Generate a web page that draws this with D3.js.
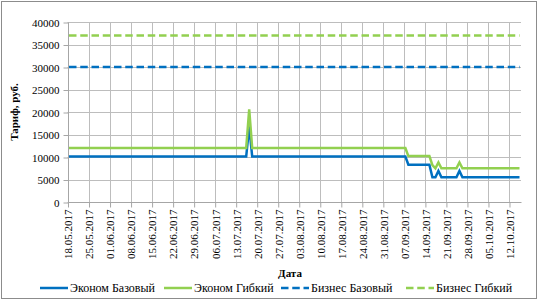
<!DOCTYPE html>
<html><head><meta charset="utf-8">
<script src="https://cdn.jsdelivr.net/npm/d3@7"></script>
</head><body style="margin:0;background:#fff">
<svg id="chart" width="540" height="304" style="display:block"></svg>
<script>
// ---- data ----
const dates = ["18.05.2017","16.07.2017","17.07.2017","18.07.2017","07.09.2017","08.09.2017","15.09.2017","16.09.2017","17.09.2017","18.09.2017","19.09.2017","24.09.2017","25.09.2017","26.09.2017","15.10.2017"];
const economyBase  = [10100,10100,16800,10100,10100,8300,8300,5500,5500,6900,5500,5500,6900,5500,5500];
const economyFlex  = [12000,12000,20600,12000,12000,10200,10200,8200,7500,8800,7500,7500,8800,7500,7500];
const businessBase = [30000,30000,30000,30000,30000,30000,30000,30000,30000,30000,30000,30000,30000,30000,30000];
const businessFlex = [37000,37000,37000,37000,37000,37000,37000,37000,37000,37000,37000,37000,37000,37000,37000];
const seriesNames  = ["Эконом Базовый","Эконом Гибкий","Бизнес Базовый","Бизнес Гибкий"];
const xTickLabels  = ["18.05.2017","25.05.2017","01.06.2017","08.06.2017","15.06.2017","22.06.2017","29.06.2017","06.07.2017","13.07.2017","20.07.2017","27.07.2017","03.08.2017","10.08.2017","17.08.2017","24.08.2017","31.08.2017","07.09.2017","14.09.2017","21.09.2017","28.09.2017","05.10.2017","12.10.2017"];
const yTicks = [0,5000,10000,15000,20000,25000,30000,35000,40000];
const axisStart = "18.05.2017", axisEnd = "16.10.2017";
const yLabel = "Тариф, руб.", xLabel = "Дата";

// ---- layout ----
const FONT = '"Liberation Serif"';
const svg = d3.select("#chart");
const L = 67.5, R = 521, T = 22, B = 202;
const parse = d3.utcParse("%d.%m.%Y");
const x = d3.scaleUtc().domain([parse(axisStart), parse(axisEnd)]).range([L, R]);
const y = d3.scaleLinear().domain([0, 40000]).range([B, T]);
const mid = d => d3.utcHour.offset(parse(d), 12);

const colors = ["#0070C0","#92D050","#0070C0","#92D050"];
const dashes = [null,null,"7.5,3.75","7.5,3.75"];
const values = [economyBase, economyFlex, businessBase, businessFlex];

// border
svg.append("rect").attr("x",1.5).attr("y",1.5).attr("width",535).attr("height",297)
  .attr("fill","none").attr("stroke","#8c8c8c").attr("stroke-width",1);

// horizontal gridlines
const grid = svg.append("g");
grid.selectAll("line.h").data(yTicks).join("line")
  .attr("x1",L).attr("x2",R)
  .attr("y1",d=>Math.round(y(d))+0.5).attr("y2",d=>Math.round(y(d))+0.5)
  .attr("stroke","#bdbdbd");
// vertical gridlines
grid.selectAll("line.v").data(xTickLabels).join("line")
  .attr("x1",d=>Math.round(x(parse(d)))+0.5).attr("x2",d=>Math.round(x(parse(d)))+0.5)
  .attr("y1",T).attr("y2",B)
  .attr("stroke","#bdbdbd");

// y axis
const yAxis = d3.axisLeft(y).tickValues(yTicks).tickSize(5).tickPadding(4).tickFormat(d3.format("d"));
const gy = svg.append("g").attr("transform",`translate(${Math.round(L)+0.5},0.5)`).call(yAxis);
gy.select(".domain").attr("stroke","#a6a6a6").attr("d",`M0,${T}V${B}`);
gy.selectAll(".tick line").attr("stroke","#a6a6a6");
gy.selectAll(".tick text").attr("fill","#000").style("font-family",FONT).style("font-size","11px");

// x axis
const xAxis = d3.axisBottom(x).tickValues(xTickLabels.map(parse)).tickSize(5).tickFormat(d3.utcFormat("%d.%m.%Y"));
const gx = svg.append("g").attr("transform",`translate(0.5,${B}.5)`).call(xAxis);
gx.select(".domain").attr("stroke","#a6a6a6").attr("d",`M${L},0H${R}`);
gx.selectAll(".tick line").attr("stroke","#a6a6a6");
gx.selectAll(".tick text").attr("fill","#000").style("font-family",FONT).style("font-size","11px")
  .attr("text-anchor","end").attr("transform","rotate(-90)").attr("x",-7).attr("y",0).attr("dy","0.35em");

// series
const line = d3.line().x(d=>x(mid(d[0]))).y(d=>y(d[1]));
values.forEach((vals,i)=>{
  svg.append("path").datum(dates.map((d,j)=>[d,vals[j]]))
    .attr("d",line).attr("fill","none")
    .attr("stroke",colors[i]).attr("stroke-width",2.5)
    .attr("stroke-dasharray",dashes[i]);
});

// axis titles
svg.append("text").attr("transform",`translate(18,${(T+B)/2}) rotate(-90)`)
  .style("font-family",FONT).style("font-size","11px").style("font-weight","bold")
  .attr("text-anchor","middle").text(yLabel);
svg.append("text").attr("x",290).attr("y",277).attr("text-anchor","middle")
  .style("font-family",FONT).style("font-size","11px").style("font-weight","bold").text(xLabel);

// legend
const legX = [40,164,281,406];
const leg = svg.append("g");
seriesNames.forEach((n,i)=>{
  leg.append("line").attr("x1",legX[i]).attr("x2",legX[i]+28).attr("y1",288).attr("y2",288)
    .attr("stroke",colors[i]).attr("stroke-width",2.5).attr("stroke-dasharray",dashes[i]);
  leg.append("text").attr("x",legX[i]+30).attr("y",292)
    .style("font-family",FONT).style("font-size","12px").text(n);
});
</script>
</body></html>
